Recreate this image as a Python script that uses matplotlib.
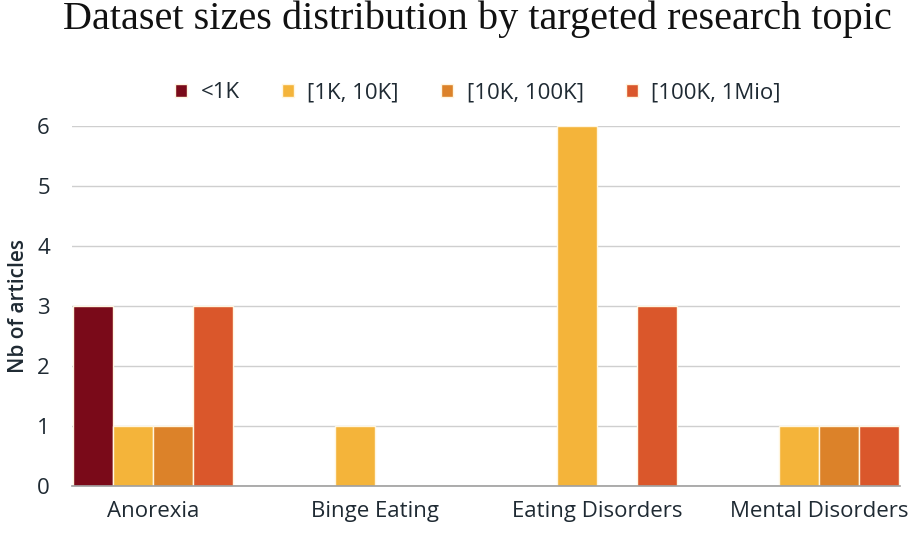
import numpy as np
import matplotlib
matplotlib.use("Agg")
import matplotlib.pyplot as plt

plt.rcParams['font.family'] = ['Open Sans', 'DejaVu Sans']

topics = ['Anorexia', 'Binge Eating', 'Eating Disorders', 'Mental Disorders']
size_labels = ['<1K', '[1K, 10K]', '[10K, 100K]', '[100K, 1Mio]']
lt_1k = [3, 0, 0, 0]
k1_10k = [1, 1, 6, 1]
k10_100k = [1, 0, 0, 1]
k100_1m = [3, 0, 3, 1]
colors = ['#7a0a19', '#f4b43a', '#dc8229', '#da572b']

series = [lt_1k, k1_10k, k10_100k, k100_1m]

fig = plt.figure(figsize=(9.12, 5.36), dpi=100)
ax = fig.add_axes([72 / 912, 1 - 486 / 536, 828 / 912, 360 / 536])

x = np.arange(len(topics))
group_w = 0.72
bw = group_w / 4
for i, (vals, lab, col) in enumerate(zip(series, size_labels, colors)):
    ax.bar(x - group_w / 2 + bw * (i + 0.5), vals, width=bw, color=col,
           edgecolor='#fff6e0', linewidth=1, label=lab, zorder=3)

ax.set_xlim(-0.365, 3.365)
ax.set_ylim(0, 6)
ax.set_yticks(range(7))
ax.set_xticks(x)
ax.set_xticklabels(topics)
ax.tick_params(axis='both', length=0, labelsize=16, colors='#1f2a33')
ax.tick_params(axis='y', pad=16)
ax.tick_params(axis='x', pad=11)
ax.grid(axis='y', color='#cfcfcf', linewidth=1, zorder=0)
for s in ['top', 'right', 'left']:
    ax.spines[s].set_visible(False)
ax.spines['bottom'].set_color('#9e9e9e')
ax.spines['bottom'].set_linewidth(1.2)
ax.spines['bottom'].set_zorder(4)

ax.set_ylabel('Nb of articles', fontsize=15, fontweight='semibold', color='#1f2a33', labelpad=6)

fig.text(0.523, 1 - 29 / 536, 'Dataset sizes distribution by targeted research topic',
         family=['Liberation Serif', 'DejaVu Serif'], fontsize=29, ha='center', va='baseline',
         color='#111111')

fig.legend(loc='center', bbox_to_anchor=(0.524, 1 - 93 / 536), ncol=4, frameon=False,
           fontsize=16, handlelength=0.55, handleheight=0.55, columnspacing=1.9,
           handletextpad=0.6, labelcolor='#1f2a33')

fig.savefig('out.png', dpi=100)
